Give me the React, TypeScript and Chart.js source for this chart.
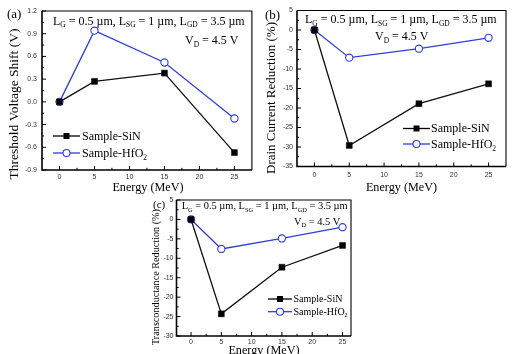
import React, { useEffect, useRef } from 'react';
import { Chart, registerables } from 'chart.js';

Chart.register(...registerables);

// ---------- data ----------
const energy = [0, 5, 15, 25];
const xTicks = [0, 5, 10, 15, 20, 25];

const vthSiN = [0, 0.27, 0.38, -0.67];
const vthHfO2 = [0, 0.94, 0.52, -0.22];
const vthTicks = [-0.9, -0.6, -0.3, 0, 0.3, 0.6, 0.9, 1.2];

const idSiN = [0, -29.6, -18.9, -13.8];
const idHfO2 = [0, -7.1, -4.8, -2.0];
const idTicks = [-35, -30, -25, -20, -15, -10, -5, 0, 5];

const gmSiN = [0, -24.3, -12.3, -6.7];
const gmHfO2 = [0, -7.6, -4.9, -2.0];
const gmTicks = [-30, -25, -20, -15, -10, -5, 0, 5];

const seriesSiN = 'Sample-SiN';
const seriesHfO2 = 'Sample-HfO2';
const xTitle = 'Energy (MeV)';

const BLUE = '#2f3fd0';
const SERIF = '"Liberation Serif", "Times New Roman", serif';
const SANS = '"Liberation Sans", Arial, sans-serif';

type Seg = { t: string; sub?: boolean };

const condSegs: Seg[] = [
  { t: 'L' }, { t: 'G', sub: true }, { t: ' = 0.5 µm, L' }, { t: 'SG', sub: true },
  { t: ' = 1 µm, L' }, { t: 'GD', sub: true }, { t: ' = 3.5 µm' },
];
const vdSegs: Seg[] = [{ t: 'V' }, { t: 'D', sub: true }, { t: ' = 4.5 V' }];
const legSiN: Seg[] = [{ t: seriesSiN }];
const legHf: Seg[] = [{ t: 'Sample-HfO' }, { t: '2', sub: true }];

function drawRich(ctx: CanvasRenderingContext2D, segs: Seg[], x: number, yc: number, size: number) {
  ctx.save();
  ctx.fillStyle = '#000';
  ctx.textAlign = 'left';
  ctx.textBaseline = 'alphabetic';
  const base = yc + size * 0.33;
  let cx = x;
  for (const s of segs) {
    const fs = s.sub ? size * 0.62 : size;
    ctx.font = `${fs}px ${SERIF}`;
    ctx.fillText(s.t, cx, s.sub ? base + size * 0.22 : base);
    cx += ctx.measureText(s.t).width;
  }
  ctx.restore();
}

interface PanelCfg {
  box: { x: number; y: number; w: number; h: number };
  area: { l: number; r: number; t: number; b: number };
  xMin: number; xMax: number;
  yMin: number; yMax: number; yTicks: number[]; yFmt: (v: number) => string;
  sin: number[]; hf: number[];
  yTitle: string; yTitlePos: [number, number]; yTitleSize: number;
  xTitlePos: [number, number]; xTitleSize: number;
  tag: string; tagPos: [number, number]; tagSize: number;
  condPos: [number, number]; condSize: number;
  vdPos: [number, number]; vdSize: number;
  legend: { x1: number; x2: number; tx: number; rows: [number, number]; size: number };
  yPad: number; xPad: number;
}

const panels: PanelCfg[] = [
  {
    box: { x: 0, y: 0, w: 257, h: 200 },
    area: { l: 42, r: 254, t: 11, b: 170 },
    xMin: -2.5, xMax: 27.5,
    yMin: -0.9, yMax: 1.2, yTicks: vthTicks, yFmt: (v) => v.toFixed(1),
    sin: vthSiN, hf: vthHfO2,
    yTitle: 'Threshold Voltage Shift (V)', yTitlePos: [14, 104], yTitleSize: 13.5,
    xTitlePos: [148, 188], xTitleSize: 12.2,
    tag: '(a)', tagPos: [7, 15], tagSize: 13,
    condPos: [53, 20.7], condSize: 12, vdPos: [185, 40], vdSize: 12,
    legend: { x1: 53, x2: 80, tx: 82, rows: [136, 153], size: 12 },
    yPad: 5, xPad: 3,
  },
  {
    box: { x: 257, y: 0, w: 257, h: 200 },
    area: { l: 297, r: 506, t: 10.5, b: 166.5 },
    xMin: -2.5, xMax: 27.5,
    yMin: -35, yMax: 5, yTicks: idTicks, yFmt: (v) => String(v),
    sin: idSiN, hf: idHfO2,
    yTitle: 'Drain Current Reduction (%)', yTitlePos: [272, 98], yTitleSize: 13,
    xTitlePos: [401.5, 188], xTitleSize: 12.2,
    tag: '(b)', tagPos: [265, 16], tagSize: 13,
    condPos: [305, 19.3], condSize: 12, vdPos: [375, 36], vdSize: 12,
    legend: { x1: 403, x2: 430, tx: 431, rows: [128.5, 144], size: 12 },
    yPad: 4, xPad: 4,
  },
  {
    box: { x: 100, y: 185, w: 260, h: 175 },
    area: { l: 176.5, r: 351, t: 200, b: 336 },
    xMin: -2.4, xMax: 26.4,
    yMin: -30, yMax: 5, yTicks: gmTicks, yFmt: (v) => String(v),
    sin: gmSiN, hf: gmHfO2,
    yTitle: 'Transconductance Reduction (%)', yTitlePos: [156, 277], yTitleSize: 10.2,
    xTitlePos: [264, 351], xTitleSize: 12.2,
    tag: '(c)', tagPos: [153, 205], tagSize: 11,
    condPos: [181.7, 206], condSize: 10.4, vdPos: [294, 221.7], vdSize: 10.4,
    legend: { x1: 268, x2: 292, tx: 293.5, rows: [299, 311.7], size: 10 },
    yPad: 3, xPad: 1.5,
  },
];

function midpoints(a: number[]): number[] {
  const out: number[] = [];
  for (let i = 0; i < a.length - 1; i++) out.push((a[i] + a[i + 1]) / 2);
  return out;
}

function makePlugin(p: PanelCfg) {
  const ox = p.box.x, oy = p.box.y;
  return {
    id: 'originStyle',
    beforeDatasetsDraw(chart: any) {
      const { ctx, chartArea } = chart;
      const { left, right, top, bottom } = chartArea;
      const xs = chart.scales.x, ys = chart.scales.y;
      ctx.save();
      ctx.strokeStyle = '#000';
      ctx.lineWidth = 1.1;
      ctx.beginPath();
      ctx.moveTo(left, top); ctx.lineTo(right, top); ctx.lineTo(right, bottom);
      ctx.stroke();
      ctx.lineWidth = 1.6;
      ctx.beginPath();
      ctx.moveTo(left, top); ctx.lineTo(left, bottom); ctx.lineTo(right, bottom);
      ctx.stroke();
      ctx.lineWidth = 1;
      ctx.beginPath();
      const xMinor = midpoints(xTicks);
      xTicks.forEach((v) => { const px = xs.getPixelForValue(v); ctx.moveTo(px, bottom); ctx.lineTo(px, bottom - 4); });
      xMinor.forEach((v) => { const px = xs.getPixelForValue(v); ctx.moveTo(px, bottom); ctx.lineTo(px, bottom - 2.2); });
      const yMinor = midpoints(p.yTicks);
      p.yTicks.forEach((v) => { const py = ys.getPixelForValue(v); ctx.moveTo(left, py); ctx.lineTo(left + 4, py); });
      yMinor.forEach((v) => { const py = ys.getPixelForValue(v); ctx.moveTo(left, py); ctx.lineTo(left + 2.2, py); });
      ctx.stroke();
      ctx.restore();
    },
    afterDraw(chart: any) {
      const ctx: CanvasRenderingContext2D = chart.ctx;
      ctx.save();
      ctx.fillStyle = '#000';
      ctx.font = `${p.tagSize}px ${SERIF}`;
      ctx.textBaseline = 'middle';
      ctx.textAlign = 'left';
      ctx.fillText(p.tag, p.tagPos[0] - ox, p.tagPos[1] - oy);
      ctx.save();
      ctx.translate(p.yTitlePos[0] - ox, p.yTitlePos[1] - oy);
      ctx.rotate(-Math.PI / 2);
      ctx.font = `${p.yTitleSize}px ${SERIF}`;
      ctx.textAlign = 'center';
      ctx.textBaseline = 'middle';
      ctx.fillText(p.yTitle, 0, 0);
      ctx.restore();
      ctx.font = `${p.xTitleSize}px ${SERIF}`;
      ctx.textAlign = 'center';
      ctx.textBaseline = 'middle';
      ctx.fillText(xTitle, p.xTitlePos[0] - ox, p.xTitlePos[1] - oy);
      ctx.restore();
      drawRich(ctx, condSegs, p.condPos[0] - ox, p.condPos[1] - oy, p.condSize);
      drawRich(ctx, vdSegs, p.vdPos[0] - ox, p.vdPos[1] - oy, p.vdSize);
      const lg = p.legend;
      const rows: Array<[number, Seg[], boolean]> = [[lg.rows[0], legSiN, true], [lg.rows[1], legHf, false]];
      rows.forEach(([ry, segs, isSiN]) => {
        const y = ry - oy;
        const x1 = lg.x1 - ox, x2 = lg.x2 - ox, xm = (x1 + x2) / 2;
        ctx.save();
        ctx.strokeStyle = isSiN ? '#000' : BLUE;
        ctx.lineWidth = 1.3;
        ctx.beginPath(); ctx.moveTo(x1, y); ctx.lineTo(x2, y); ctx.stroke();
        if (isSiN) {
          ctx.fillStyle = '#000';
          ctx.fillRect(xm - 3, y - 3, 6, 6);
        } else {
          ctx.fillStyle = '#fff';
          ctx.lineWidth = 1.1;
          ctx.beginPath(); ctx.arc(xm, y, 3.5, 0, Math.PI * 2); ctx.fill(); ctx.stroke();
        }
        ctx.restore();
        drawRich(ctx, segs, lg.tx - ox, y, lg.size);
      });
    },
  };
}

function Panel({ p }: { p: PanelCfg }) {
  const ref = useRef<HTMLCanvasElement | null>(null);
  useEffect(() => {
    const canvas = ref.current;
    if (!canvas) return;
    const ox = p.box.x, oy = p.box.y;
    const area = { l: p.area.l - ox, r: p.area.r - ox, t: p.area.t - oy, b: p.area.b - oy };
    const chart = new Chart(canvas, {
      type: 'line',
      data: {
        datasets: [
          {
            label: seriesSiN,
            data: energy.map((x, i) => ({ x, y: p.sin[i] })),
            borderColor: '#111',
            backgroundColor: '#000',
            borderWidth: 1.3,
            pointStyle: 'rect',
            pointRadius: 4.2,
            pointBorderWidth: 0.5,
            pointBackgroundColor: '#000',
            pointBorderColor: '#000',
            tension: 0,
            clip: false,
          },
          {
            label: seriesHfO2,
            data: energy.map((x, i) => ({ x, y: p.hf[i] })),
            borderColor: BLUE,
            backgroundColor: '#fff',
            borderWidth: 1.3,
            pointStyle: 'circle',
            pointRadius: 3.6,
            pointBorderWidth: 1.1,
            pointBackgroundColor: '#fff',
            pointBorderColor: BLUE,
            tension: 0,
            clip: false,
          },
        ],
      } as any,
      options: {
        responsive: false,
        animation: false,
        devicePixelRatio: 1,
        events: [],
        layout: { padding: { left: 0, top: area.t, right: p.box.w - area.r, bottom: 0 } },
        plugins: { legend: { display: false }, tooltip: { enabled: false } },
        scales: {
          x: {
            type: 'linear',
            min: p.xMin,
            max: p.xMax,
            grid: { display: false, drawTicks: false },
            border: { display: false },
            afterBuildTicks: (s: any) => { s.ticks = xTicks.map((value) => ({ value })); },
            afterFit: (s: any) => {
              s.height = p.box.h - area.b;
              s.paddingLeft = 0; s.paddingRight = 0; s.paddingTop = 0; s.paddingBottom = 0;
            },
            ticks: {
              autoSkip: false, maxRotation: 0, padding: p.xPad,
              color: '#333', font: { family: SANS, size: 7 },
              callback: (v: any) => String(v),
            },
          },
          y: {
            type: 'linear',
            min: p.yMin,
            max: p.yMax,
            grid: { display: false, drawTicks: false },
            border: { display: false },
            afterBuildTicks: (s: any) => { s.ticks = p.yTicks.map((value) => ({ value })); },
            afterFit: (s: any) => {
              s.width = area.l;
              s.paddingLeft = 0; s.paddingRight = 0; s.paddingTop = 0; s.paddingBottom = 0;
            },
            ticks: {
              autoSkip: false, padding: p.yPad,
              color: '#333', font: { family: SANS, size: 7 },
              callback: (v: any) => p.yFmt(Number(v)),
            },
          },
        },
      } as any,
      plugins: [makePlugin(p)],
    });
    return () => chart.destroy();
  }, [p]);
  return (
    <canvas
      ref={ref}
      width={p.box.w}
      height={p.box.h}
      style={{ position: 'absolute', left: p.box.x, top: p.box.y, width: p.box.w, height: p.box.h }}
    />
  );
}

export default function App() {
  return (
    <div
      style={{
        position: 'fixed', left: 0, top: 0, width: 514, height: 354,
        overflow: 'hidden', background: '#fff',
      }}
    >
      {panels.map((p, i) => <Panel key={i} p={p} />)}
    </div>
  );
}
